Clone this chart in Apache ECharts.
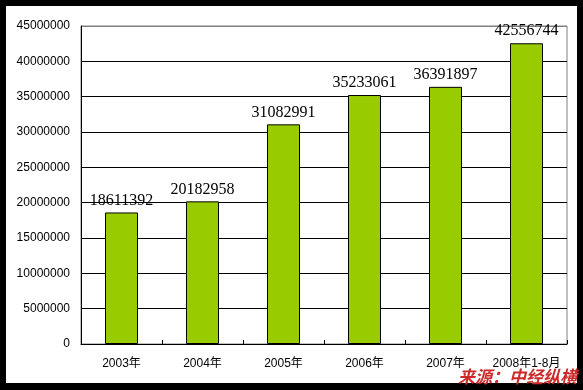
<!DOCTYPE html>
<html>
<head>
<meta charset="utf-8">
<script src="https://cdn.jsdelivr.net/npm/echarts@6/dist/echarts.min.js"></script>
<style>html,body{margin:0;padding:0;background:#000;}#c{width:583px;height:390px;}</style>
</head>
<body>
<div id="c"></div>
<script>
const categories = ['2003年', '2004年', '2005年', '2006年', '2007年', '2008年1-8月'];
const values = [18611392, 20182958, 31082991, 35233061, 36391897, 42556744];
const yMin = 0, yMax = 45000000, yStep = 5000000;
const sourceText = '来源：中经纵横';

const chart = echarts.init(document.getElementById('c'), null, {renderer: 'canvas'});
const splitColors = [];
for (let v = yMin; v <= yMax; v += yStep) splitColors.push(v === yMax ? '#808080' : '#000000');

chart.setOption({
  backgroundColor: '#000',
  animation: false,
  graphic: [
    {type: 'rect', z: -10, shape: {x: 6, y: 6, width: 571, height: 377}, style: {fill: '#fff'}},
    {type: 'text', right: 6, bottom: 5, z: 10, style: {text: sourceText, fill: '#cc2a2a', font: 'italic bold 17px "Noto Sans CJK SC"'}}
  ],
  grid: {left: 81, top: 26, right: 16, bottom: 46, show: true, borderColor: '#808080', borderWidth: 1, backgroundColor: 'transparent'},
  xAxis: {
    type: 'category',
    data: categories,
    axisLine: {lineStyle: {color: '#000', width: 1}},
    axisTick: {show: true, inside: true, length: 4, lineStyle: {color: '#000'}},
    axisLabel: {interval: 0, color: '#000', fontSize: 12, fontFamily: '"Liberation Sans", "Noto Sans CJK SC"', margin: 14}
  },
  yAxis: {
    type: 'value',
    min: yMin, max: yMax, interval: yStep,
    axisLine: {show: true, lineStyle: {color: '#000', width: 1}},
    axisTick: {show: false},
    splitLine: {show: true, lineStyle: {color: splitColors, width: 1}},
    axisLabel: {color: '#000', fontSize: 12, fontFamily: '"Liberation Sans"', margin: 11, formatter: v => String(v)}
  },
  series: [{
    type: 'bar',
    data: values,
    barWidth: 33,
    itemStyle: {color: '#99CC00', borderColor: '#000', borderWidth: 1},
    label: {show: true, position: 'top', distance: 4, color: '#000', fontSize: 16, fontFamily: '"Liberation Serif"'}
  }]
});
</script>
</body>
</html>
